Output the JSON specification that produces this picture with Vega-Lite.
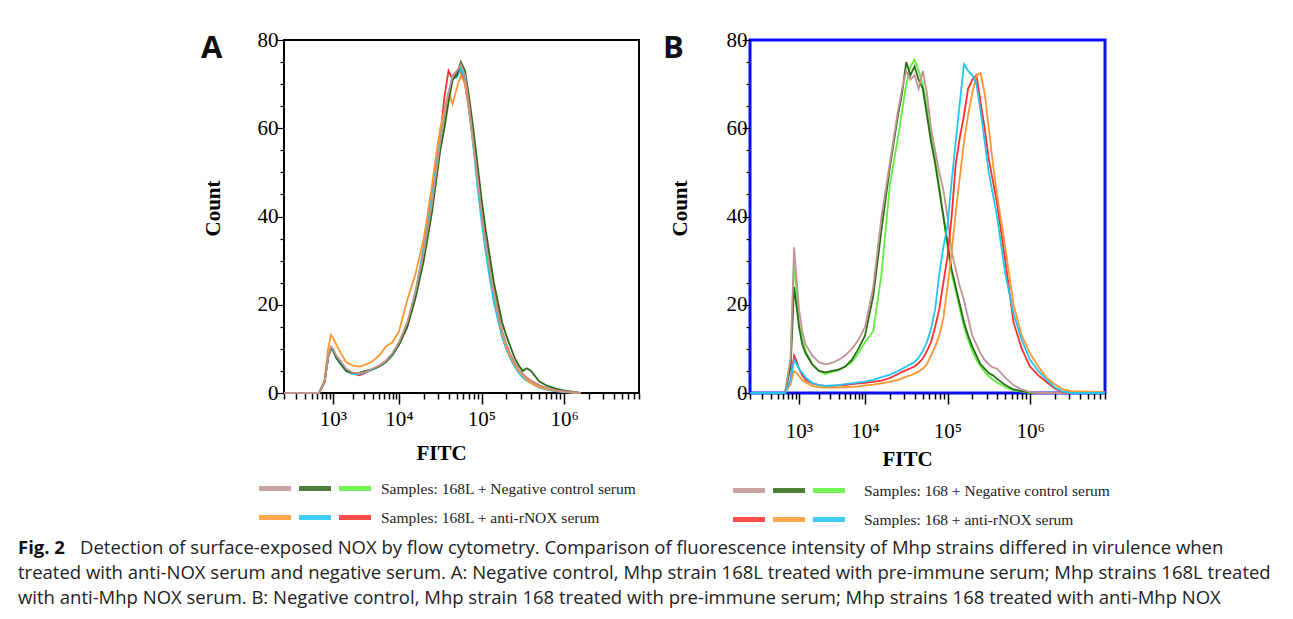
{
  "$schema": "https://vega.github.io/schema/vega-lite/v6.json",
  "background": "white",
  "padding": {"left": 18, "top": 27, "right": 0, "bottom": 0},
  "config": {"view": {"stroke": null}},
  "datasets": {
    "A": [
      {"x":200,"n1":0,"n2":0,"n3":0,"o":0,"c":0,"r":0},
      {"x":631,"n1":0,"n2":0,"n3":0,"o":0,"c":0,"r":0},
      {"x":759,"n1":2.5,"n2":2.5,"n3":2.5,"o":3,"c":2.5,"r":2.5},
      {"x":851,"n1":8,"n2":8,"n3":8,"o":10,"c":8,"r":8},
      {"x":933,"n1":10.5,"n2":10.2,"n3":10.3,"o":13.2,"c":10,"r":10},
      {"x":1000,"n1":10,"n2":9.8,"n3":9.8,"o":12.5,"c":9.5,"r":9.5},
      {"x":1122,"n1":8.5,"n2":8,"n3":8.3,"o":11,"c":8,"r":8},
      {"x":1259,"n1":7.5,"n2":7,"n3":7.2,"o":9.5,"c":6.8,"r":7},
      {"x":1585,"n1":5.5,"n2":5,"n3":5.3,"o":7,"c":5,"r":5.2},
      {"x":1995,"n1":4.6,"n2":4.5,"n3":4.5,"o":6.2,"c":4.3,"r":4.4},
      {"x":2512,"n1":4.5,"n2":4.6,"n3":4.4,"o":6,"c":4.3,"r":4.0},
      {"x":3162,"n1":4.8,"n2":5,"n3":4.8,"o":6.5,"c":4.7,"r":4.6},
      {"x":3981,"n1":5.5,"n2":5.4,"n3":5.4,"o":7.2,"c":5.3,"r":5.4},
      {"x":5012,"n1":6.2,"n2":6,"n3":6.1,"o":8.5,"c":6,"r":6.2},
      {"x":6310,"n1":7.3,"n2":7,"n3":7.2,"o":10.5,"c":7,"r":7.2},
      {"x":7943,"n1":9,"n2":8.7,"n3":8.9,"o":11.5,"c":8.5,"r":8.8},
      {"x":10000,"n1":11.5,"n2":11,"n3":11.3,"o":14,"c":11,"r":11},
      {"x":12589,"n1":16,"n2":15,"n3":15.8,"o":21,"c":15.5,"r":15},
      {"x":15849,"n1":23,"n2":21.5,"n3":22.5,"o":27,"c":23,"r":22},
      {"x":19953,"n1":32,"n2":30,"n3":31.5,"o":35,"c":33,"r":33},
      {"x":25119,"n1":43,"n2":41,"n3":42.5,"o":47,"c":45,"r":44},
      {"x":28184,"n1":50,"n2":48,"n3":49.5,"o":54,"c":52,"r":51},
      {"x":31623,"n1":57,"n2":55,"n3":56.5,"o":60,"c":59,"r":58},
      {"x":35481,"n1":63,"n2":60,"n3":62.5,"o":64,"c":64,"r":67},
      {"x":39811,"n1":68,"n2":66,"n3":67.5,"o":68,"c":68,"r":73},
      {"x":44668,"n1":72,"n2":71,"n3":71.5,"o":65.5,"c":71.5,"r":71},
      {"x":50119,"n1":73,"n2":72,"n3":72.5,"o":69,"c":71.5,"r":72.5},
      {"x":56234,"n1":74.5,"n2":75,"n3":74,"o":72,"c":73.5,"r":73},
      {"x":63096,"n1":72,"n2":73,"n3":71.5,"o":70,"c":71,"r":70},
      {"x":70795,"n1":65,"n2":67,"n3":64.5,"o":64,"c":64,"r":64},
      {"x":79433,"n1":57,"n2":60,"n3":56.5,"o":57,"c":56,"r":57},
      {"x":89125,"n1":49,"n2":52,"n3":48.5,"o":49,"c":47,"r":49},
      {"x":100000,"n1":41,"n2":44,"n3":40.5,"o":42,"c":39,"r":42},
      {"x":112202,"n1":34,"n2":37,"n3":33.5,"o":35,"c":32,"r":35},
      {"x":125893,"n1":28,"n2":31,"n3":27.5,"o":29,"c":26,"r":29},
      {"x":141254,"n1":22.5,"n2":25,"n3":22,"o":23,"c":20.5,"r":23},
      {"x":158489,"n1":18,"n2":20.5,"n3":17.5,"o":18,"c":16.5,"r":18.5},
      {"x":177828,"n1":14,"n2":16,"n3":13.5,"o":13.5,"c":12.5,"r":14},
      {"x":199526,"n1":11,"n2":13,"n3":10.6,"o":10.5,"c":10,"r":11},
      {"x":223872,"n1":8.8,"n2":10.5,"n3":8.5,"o":8.2,"c":7.8,"r":8.6},
      {"x":251189,"n1":7,"n2":8,"n3":6.8,"o":6.5,"c":6,"r":6.8},
      {"x":281838,"n1":5.5,"n2":6.3,"n3":5.3,"o":5,"c":4.6,"r":5.3},
      {"x":316228,"n1":4.3,"n2":5,"n3":4.2,"o":4,"c":3.5,"r":4.2},
      {"x":354813,"n1":3.5,"n2":5.6,"n3":3.4,"o":3,"c":2.8,"r":3.4},
      {"x":398107,"n1":2.8,"n2":5,"n3":2.7,"o":2.2,"c":2.2,"r":2.7},
      {"x":501187,"n1":1.8,"n2":2.6,"n3":1.7,"o":1.3,"c":1.2,"r":1.7},
      {"x":630957,"n1":1.1,"n2":1.6,"n3":1.0,"o":0.8,"c":0.7,"r":1.0},
      {"x":794328,"n1":0.6,"n2":1.0,"n3":0.6,"o":0.5,"c":0.4,"r":0.6},
      {"x":1000000,"n1":0.4,"n2":0.6,"n3":0.3,"o":0.3,"c":0.2,"r":0.3},
      {"x":1258925,"n1":0.2,"n2":0.3,"n3":0.1,"o":0.1,"c":0.1,"r":0.1},
      {"x":1584893,"n1":0,"n2":0,"n3":0,"o":0,"c":0,"r":0}
    ],
    "B": [
      {"x":200,"n1":0,"n2":0,"n3":0,"r":0,"o":0,"c":0},
      {"x":631,"n1":0,"n2":0,"n3":0,"r":0,"o":0,"c":0},
      {"x":759,"n1":8,"n2":6,"n3":7,"r":3,"o":2,"c":3},
      {"x":851,"n1":33,"n2":24,"n3":30,"r":8.5,"o":5,"c":7.5},
      {"x":933,"n1":25,"n2":19,"n3":22,"r":7,"o":4.5,"c":6.5},
      {"x":1000,"n1":19,"n2":15,"n3":16,"r":5.5,"o":3.8,"c":5.5},
      {"x":1122,"n1":14,"n2":11,"n3":12,"r":4,"o":3,"c":4.5},
      {"x":1259,"n1":11,"n2":9,"n3":9.5,"r":3,"o":2.4,"c":3.5},
      {"x":1585,"n1":8.5,"n2":6.5,"n3":6.5,"r":2.2,"o":1.6,"c":2.3},
      {"x":1995,"n1":7,"n2":5,"n3":5,"r":1.8,"o":1.3,"c":1.8},
      {"x":2512,"n1":6.5,"n2":4.7,"n3":4.3,"r":1.6,"o":1.2,"c":1.6},
      {"x":3162,"n1":6.8,"n2":5,"n3":4.8,"r":1.6,"o":1.2,"c":1.7},
      {"x":3981,"n1":7.5,"n2":5.3,"n3":5.2,"r":1.7,"o":1.2,"c":1.8},
      {"x":5012,"n1":8.5,"n2":6,"n3":6,"r":1.8,"o":1.3,"c":2},
      {"x":6310,"n1":10,"n2":7.5,"n3":7,"r":2,"o":1.4,"c":2.2},
      {"x":7943,"n1":12,"n2":10,"n3":9,"r":2.2,"o":1.5,"c":2.4},
      {"x":10000,"n1":15,"n2":13,"n3":11.5,"r":2.3,"o":1.7,"c":2.6},
      {"x":12589,"n1":24,"n2":22,"n3":14,"r":2.5,"o":1.9,"c":3},
      {"x":15849,"n1":40,"n2":37,"n3":27,"r":2.8,"o":2.2,"c":3.6},
      {"x":19953,"n1":52,"n2":51,"n3":47,"r":3.4,"o":2.5,"c":4.1},
      {"x":25119,"n1":64,"n2":63,"n3":58,"r":4.3,"o":3,"c":5},
      {"x":28184,"n1":69,"n2":68,"n3":64,"r":4.8,"o":3.3,"c":5.5},
      {"x":31623,"n1":73,"n2":75,"n3":70,"r":5.2,"o":3.7,"c":6},
      {"x":35481,"n1":71,"n2":72,"n3":74,"r":5.6,"o":4,"c":6.5},
      {"x":39811,"n1":72,"n2":74,"n3":75.5,"r":6,"o":4.4,"c":7},
      {"x":44668,"n1":69,"n2":71,"n3":73,"r":6.8,"o":4.9,"c":8},
      {"x":50119,"n1":73,"n2":69,"n3":70,"r":7.8,"o":5.5,"c":9.5},
      {"x":56234,"n1":68,"n2":63,"n3":65,"r":9.5,"o":6.5,"c":11.5},
      {"x":63096,"n1":60,"n2":57,"n3":58,"r":11.5,"o":8.5,"c":14.5},
      {"x":70795,"n1":55,"n2":52,"n3":53,"r":15,"o":10.5,"c":19},
      {"x":79433,"n1":50,"n2":46,"n3":47,"r":19,"o":13,"c":27},
      {"x":89125,"n1":46,"n2":40,"n3":40,"r":25,"o":17,"c":33},
      {"x":100000,"n1":40,"n2":34,"n3":33,"r":31,"o":24,"c":38},
      {"x":112202,"n1":32,"n2":28,"n3":27,"r":40,"o":32,"c":48},
      {"x":125893,"n1":28,"n2":24,"n3":23,"r":52,"o":41,"c":57},
      {"x":141254,"n1":24,"n2":20,"n3":19,"r":58,"o":49,"c":66},
      {"x":158489,"n1":21,"n2":16,"n3":15,"r":63,"o":57,"c":74.5},
      {"x":177828,"n1":17,"n2":13,"n3":12,"r":69,"o":63,"c":73},
      {"x":199526,"n1":13,"n2":10.5,"n3":9.5,"r":71,"o":68,"c":72},
      {"x":223872,"n1":11,"n2":8.5,"n3":7.5,"r":72,"o":72,"c":70},
      {"x":251189,"n1":9,"n2":6.5,"n3":6,"r":66,"o":72.5,"c":64},
      {"x":281838,"n1":7.5,"n2":5.5,"n3":4.8,"r":60,"o":68,"c":57},
      {"x":316228,"n1":6.5,"n2":4.5,"n3":3.8,"r":53,"o":60,"c":50},
      {"x":354813,"n1":5.8,"n2":4,"n3":3,"r":48,"o":52,"c":45},
      {"x":398107,"n1":5.5,"n2":3.2,"n3":2.4,"r":43,"o":45,"c":40},
      {"x":501187,"n1":3.5,"n2":1.8,"n3":1.3,"r":30,"o":33,"c":27},
      {"x":630957,"n1":1.8,"n2":0.8,"n3":0.6,"r":16,"o":20,"c":18},
      {"x":794328,"n1":0.8,"n2":0.4,"n3":0.3,"r":10,"o":13,"c":12},
      {"x":1000000,"n1":0.2,"n2":0.1,"n3":0,"r":6,"o":9,"c":7.5},
      {"x":1258925,"n1":0,"n2":0,"n3":0,"r":4,"o":6,"c":5},
      {"x":1584893,"n1":0,"n2":0,"n3":0,"r":2.5,"o":3.5,"c":3},
      {"x":1995262,"n1":0,"n2":0,"n3":0,"r":1,"o":2,"c":1.3},
      {"x":2511886,"n1":0,"n2":0,"n3":0,"r":0.2,"o":0.8,"c":0.3},
      {"x":3162278,"n1":0,"n2":0,"n3":0,"r":0,"o":0.4,"c":0},
      {"x":8100000,"n1":0,"n2":0,"n3":0,"r":0,"o":0.2,"c":0}
    ],
    "leg": [
      {"p":"A","g":1,"k":1,"s":"n1","t":"Samples: 168L + Negative control serum"},
      {"p":"A","g":1,"k":2,"s":"n2","t":"Samples: 168L + Negative control serum"},
      {"p":"A","g":1,"k":3,"s":"n3","t":"Samples: 168L + Negative control serum"},
      {"p":"A","g":2,"k":1,"s":"o","t":"Samples: 168L + anti-rNOX serum"},
      {"p":"A","g":2,"k":2,"s":"c","t":"Samples: 168L + anti-rNOX serum"},
      {"p":"A","g":2,"k":3,"s":"r","t":"Samples: 168L + anti-rNOX serum"},
      {"p":"B","g":1,"k":1,"s":"n1","t":"Samples: 168 + Negative control serum"},
      {"p":"B","g":1,"k":2,"s":"n2","t":"Samples: 168 + Negative control serum"},
      {"p":"B","g":1,"k":3,"s":"n3","t":"Samples: 168 + Negative control serum"},
      {"p":"B","g":2,"k":1,"s":"r","t":"Samples: 168 + anti-rNOX serum"},
      {"p":"B","g":2,"k":2,"s":"o","t":"Samples: 168 + anti-rNOX serum"},
      {"p":"B","g":2,"k":3,"s":"c","t":"Samples: 168 + anti-rNOX serum"}
    ],
    "cap": [
      {"l":1,"c":0,"w":"b","t":"Fig. 2"},
      {"l":1,"c":1,"w":"n","t":"Detection of surface-exposed NOX by flow cytometry. Comparison of fluorescence intensity of Mhp strains differed in virulence when"},
      {"l":2,"c":0,"w":"n","t":"treated with anti-NOX serum and negative serum. A: Negative control, Mhp strain 168L treated with pre-immune serum; Mhp strains 168L treated"},
      {"l":3,"c":0,"w":"n","t":"with anti-Mhp NOX serum. B: Negative control, Mhp strain 168 treated with pre-immune serum; Mhp strains 168 treated with anti-Mhp NOX"}
    ]
  },
  "vconcat": [
    {
      "hconcat": [
        {"width": 162, "height": 10, "data": {"values": []}, "mark": "point"},
        {
          "vconcat": [
            {
              "width": 355, "height": 353,
              "title": {"text": "A", "anchor": "start", "frame": "bounds", "font": "Open Sans", "fontSize": 31, "fontWeight": "bold", "color": "#111", "baseline": "top", "dx": -1, "dy": 40},
              "view": {"stroke": "#000", "strokeWidth": 2},
              "data": {"name": "A"},
              "transform": [{"fold": ["n3", "r", "c", "o", "n2", "n1"], "as": ["s", "y"]}],
              "mark": {"type": "line", "strokeWidth": 1.8},
              "encoding": {
                "x": {"field": "x", "type": "quantitative",
                  "scale": {"type": "log", "domain": [200, 1000, 10000, 8100000], "range": [0, 49, 115, 355], "nice": false},
                  "axis": {"title": "FITC", "titleX": 157, "titleY": 49, "titleBaseline": "top", "domain": false, "grid": false,
                    "labelExpr": "abs(datum.value-1000)<1 ? '10³' : abs(datum.value-10000)<1 ? '10⁴' : abs(datum.value-100000)<1 ? '10⁵' : abs(datum.value-1000000)<1 ? '10⁶' : ''",
                    "labelOverlap": false, "labelFlush": false, "labelPadding": 4,
                    "tickSize": {"condition": {"test": "abs(log(datum.value)/LN10 - round(log(datum.value)/LN10)) < 0.001", "value": 11}, "value": 6},
                    "tickColor": "#000", "tickWidth": 1.5,
                    "labelFont": "Liberation Serif", "labelFontSize": 21, "labelColor": "#000",
                    "titleFont": "Liberation Serif", "titleFontSize": 21, "titleFontWeight": "bold", "titleColor": "#000"}},
                "y": {"field": "y", "type": "quantitative",
                  "scale": {"domain": [0, 80], "nice": false},
                  "axis": {"title": "Count", "titleY": 168, "values": [0,5,10,15,20,25,30,35,40,45,50,55,60,65,70,75,80],
                    "labelExpr": "datum.value % 20 == 0 ? datum.label : ''", "labelOverlap": false, "labelPadding": -2,
                    "tickSize": {"condition": {"test": "datum.value % 20 == 0", "value": 8}, "value": 4},
                    "tickColor": "#000", "tickWidth": 1.2, "domain": false, "grid": false, "titlePadding": 34,
                    "labelFont": "Liberation Serif", "labelFontSize": 21, "labelColor": "#000",
                    "titleFont": "Liberation Serif", "titleFontSize": 21, "titleFontWeight": "bold", "titleColor": "#000"}},
                "color": {"field": "s", "type": "nominal", "legend": null,
                  "scale": {"domain": ["n1", "n2", "n3", "r", "o", "c"], "range": ["#c39393", "#2b6a18", "#5cf03a", "#ff2d2d", "#ff9730", "#20c5f2"]}}
              }
            },
            {
              "width": 355, "height": 58,
              "data": {"name": "leg"},
              "transform": [{"filter": "datum.p == 'A'"}],
              "encoding": {"y": {"field": "g", "type": "ordinal", "scale": {"paddingInner": 0, "paddingOuter": 0}, "axis": null}},
              "layer": [
                {"mark": {"type": "tick", "orient": "horizontal", "size": 32, "thickness": 5, "opacity": 0.85},
                 "encoding": {"x": {"field": "k", "type": "quantitative", "scale": {"domain": [1.225, 10.1], "nice": false, "zero": false}, "axis": null},
                   "color": {"field": "s", "type": "nominal", "legend": null,
                     "scale": {"domain": ["n1", "n2", "n3", "r", "o", "c"], "range": ["#c39393", "#2b6a18", "#5cf03a", "#ff2d2d", "#ff9730", "#20c5f2"]}}}},
                {"transform": [{"filter": "datum.k == 1"}],
                 "mark": {"type": "text", "align": "left", "baseline": "middle", "font": "Liberation Serif", "fontSize": 15.5, "color": "#222"},
                 "encoding": {"x": {"datum": 3.65, "type": "quantitative"}, "text": {"field": "t"}}}
              ]
            }
          ],
          "spacing": 10
        },
        {
          "vconcat": [
            {
              "width": 355, "height": 353,
              "title": {"text": "B", "anchor": "start", "frame": "bounds", "font": "Open Sans", "fontSize": 31, "fontWeight": "bold", "color": "#111", "baseline": "top", "dx": -6, "dy": 40},
              "view": {"stroke": "#0b0bff", "strokeWidth": 3},
              "data": {"name": "B"},
              "transform": [{"fold": ["n3", "n2", "n1", "r", "o", "c"], "as": ["s", "y"]}],
              "mark": {"type": "line", "strokeWidth": 1.8},
              "encoding": {
                "x": {"field": "x", "type": "quantitative",
                  "scale": {"type": "log", "domain": [200, 1000, 10000, 8100000], "range": [0, 49, 115, 355], "nice": false},
                  "axis": {"title": "FITC", "titleX": 157, "titleY": 55, "titleBaseline": "top", "domain": false, "grid": false,
                    "labelExpr": "abs(datum.value-1000)<1 ? '10³' : abs(datum.value-10000)<1 ? '10⁴' : abs(datum.value-100000)<1 ? '10⁵' : abs(datum.value-1000000)<1 ? '10⁶' : ''",
                    "labelOverlap": false, "labelFlush": false, "labelPadding": 16,
                    "tickSize": {"condition": {"test": "abs(log(datum.value)/LN10 - round(log(datum.value)/LN10)) < 0.001", "value": 11}, "value": 6},
                    "tickColor": "#000", "tickWidth": 1.5,
                    "labelFont": "Liberation Serif", "labelFontSize": 21, "labelColor": "#000",
                    "titleFont": "Liberation Serif", "titleFontSize": 21, "titleFontWeight": "bold", "titleColor": "#000"}},
                "y": {"field": "y", "type": "quantitative",
                  "scale": {"domain": [0, 80], "nice": false},
                  "axis": {"title": "Count", "titleY": 168, "values": [0,5,10,15,20,25,30,35,40,45,50,55,60,65,70,75,80],
                    "labelExpr": "datum.value % 20 == 0 ? datum.label : ''", "labelOverlap": false, "labelPadding": -5,
                    "tickSize": {"condition": {"test": "datum.value % 20 == 0", "value": 8}, "value": 4},
                    "tickColor": "#000", "tickWidth": 1.2, "domain": false, "grid": false, "titlePadding": 36,
                    "labelFont": "Liberation Serif", "labelFontSize": 21, "labelColor": "#000",
                    "titleFont": "Liberation Serif", "titleFontSize": 21, "titleFontWeight": "bold", "titleColor": "#000"}},
                "color": {"field": "s", "type": "nominal", "legend": null,
                  "scale": {"domain": ["n1", "n2", "n3", "r", "o", "c"], "range": ["#c39393", "#2b6a18", "#5cf03a", "#ff2d2d", "#ff9730", "#20c5f2"]}}
              }
            },
            {
              "width": 355, "height": 58,
              "data": {"name": "leg"},
              "transform": [{"filter": "datum.p == 'B'"}],
              "encoding": {"y": {"field": "g", "type": "ordinal", "scale": {"paddingInner": 0, "paddingOuter": 0}, "axis": null}},
              "layer": [
                {"mark": {"type": "tick", "orient": "horizontal", "size": 32, "thickness": 5, "opacity": 0.85},
                 "encoding": {"x": {"field": "k", "type": "quantitative", "scale": {"domain": [1.025, 9.9], "nice": false, "zero": false}, "axis": null},
                   "color": {"field": "s", "type": "nominal", "legend": null,
                     "scale": {"domain": ["n1", "n2", "n3", "r", "o", "c"], "range": ["#c39393", "#2b6a18", "#5cf03a", "#ff2d2d", "#ff9730", "#20c5f2"]}}}},
                {"transform": [{"filter": "datum.k == 1"}],
                 "mark": {"type": "text", "align": "left", "baseline": "middle", "font": "Liberation Serif", "fontSize": 15.5, "color": "#222"},
                 "encoding": {"x": {"datum": 3.875, "type": "quantitative"}, "text": {"field": "t"}}}
              ]
            }
          ],
          "spacing": 5
        }
      ],
      "spacing": 20
    },
    {
      "width": 1240, "height": 75,
      "data": {"name": "cap"},
      "encoding": {
        "y": {"field": "l", "type": "ordinal", "scale": {"paddingInner": 0, "paddingOuter": 0}, "axis": null},
        "x": {"field": "c", "type": "quantitative", "scale": {"domain": [0, 20], "nice": false, "zero": false}, "axis": null},
        "text": {"field": "t"}
      },
      "layer": [
        {"transform": [{"filter": "datum.w == 'b'"}], "mark": {"type": "text", "align": "left", "baseline": "middle", "font": "Open Sans", "fontSize": 18.5, "fontWeight": "bold", "color": "#111"}},
        {"transform": [{"filter": "datum.w == 'n'"}], "mark": {"type": "text", "align": "left", "baseline": "middle", "font": "Open Sans", "fontSize": 18.5, "color": "#222"}}
      ]
    }
  ],
  "spacing": 1
}
